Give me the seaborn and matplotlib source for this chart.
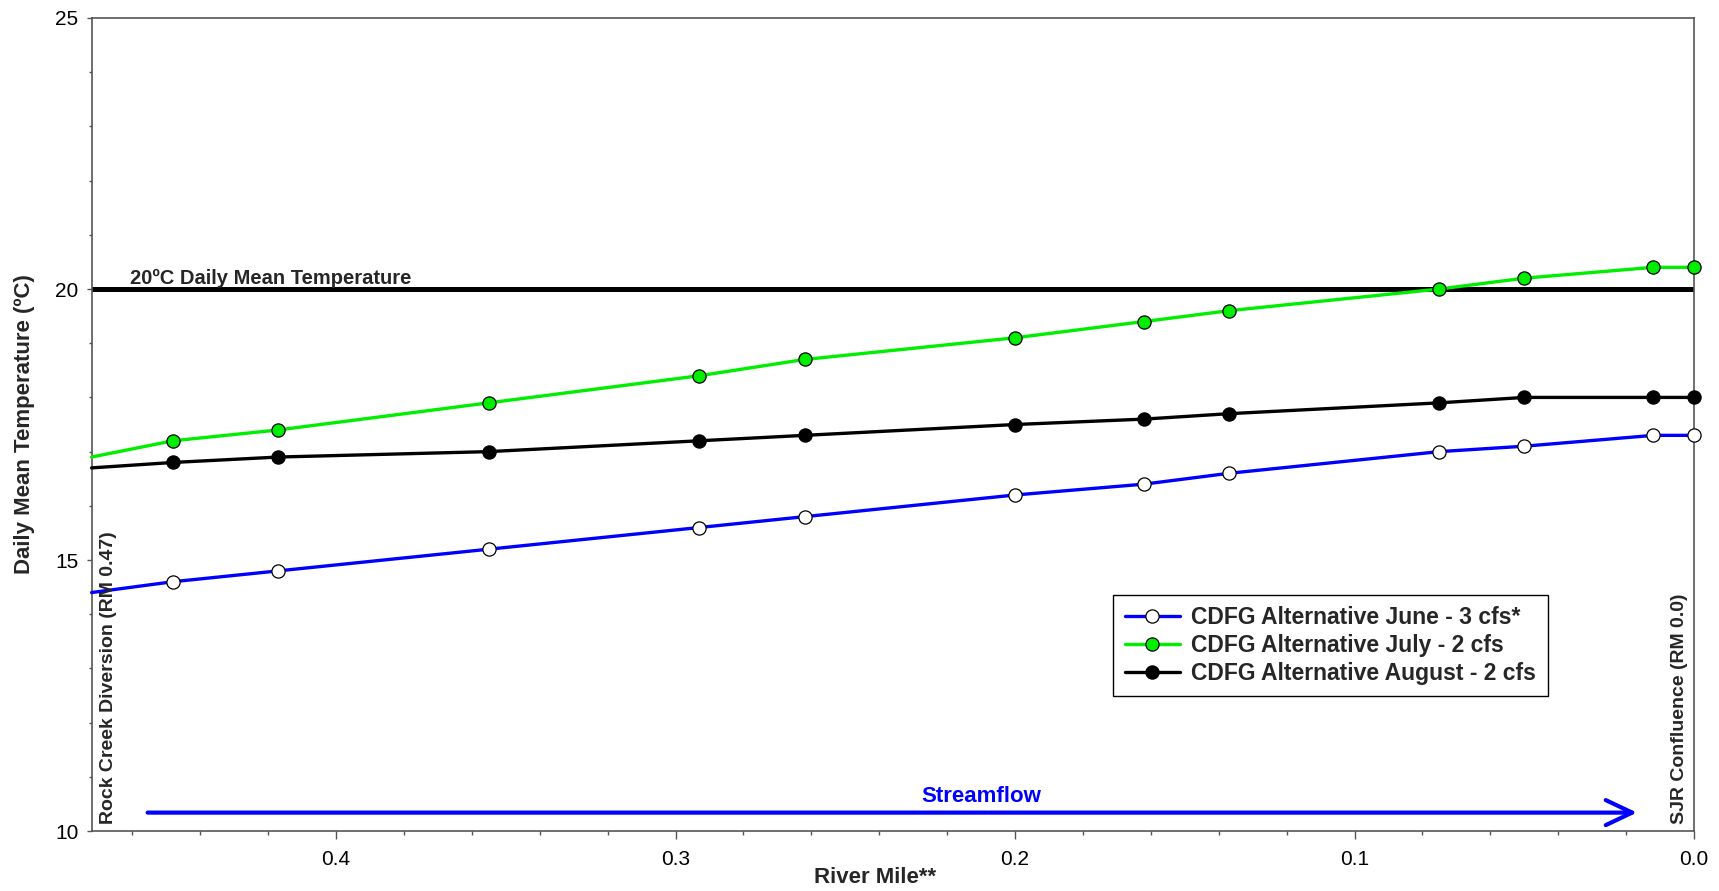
import matplotlib
matplotlib.use("Agg")
import matplotlib.pyplot as plt
from matplotlib.ticker import MultipleLocator, FixedLocator
import seaborn as sns
import pandas as pd

# ---- data ----
river_mile = [0.472, 0.448, 0.417, 0.355, 0.293, 0.262, 0.200, 0.162, 0.137, 0.075, 0.050, 0.012, 0.0]
june_temp = [14.4, 14.6, 14.8, 15.2, 15.6, 15.8, 16.2, 16.4, 16.6, 17.0, 17.1, 17.3, 17.3]
july_temp = [16.9, 17.2, 17.4, 17.9, 18.4, 18.7, 19.1, 19.4, 19.6, 20.0, 20.2, 20.4, 20.4]
august_temp = [16.7, 16.8, 16.9, 17.0, 17.2, 17.3, 17.5, 17.6, 17.7, 17.9, 18.0, 18.0, 18.0]
series_labels = ["CDFG Alternative June - 3 cfs*",
                 "CDFG Alternative July - 2 cfs",
                 "CDFG Alternative August - 2 cfs"]
threshold = 20
x_ticks = [0.4, 0.3, 0.2, 0.1, 0.0]
x_tick_labels = ["0.4", "0.3", "0.2", "0.1", "0.0"]
y_ticks = [10, 15, 20, 25]

sns.set_theme(style="ticks")
plt.rcParams["font.family"] = ["Liberation Sans", "DejaVu Sans"]

fig = plt.figure(figsize=(17.19, 8.91), dpi=100)
ax = fig.add_axes([0.0533, 0.0673, 0.9322, 0.9125])

ax.axhline(threshold, color="black", lw=3.6, zorder=1.5)

styles = [
    dict(color="#0000ff", mfc="white"),
    dict(color="#00ee00", mfc="#00ee00"),
    dict(color="black", mfc="black"),
]
for vals, lab, st in zip([june_temp, july_temp, august_temp], series_labels, styles):
    df = pd.DataFrame({"rm": river_mile, "t": vals})
    sns.lineplot(data=df, x="rm", y="t", ax=ax, sort=False, color=st["color"],
                 lw=2.4, marker="o", markersize=9.5, markerfacecolor=st["mfc"],
                 markeredgecolor="black", markeredgewidth=0.9,
                 markevery=list(range(1, len(river_mile))), label=lab,
                 clip_on=False, zorder=3)

ax.set_xlim(0.472, 0.0)
ax.set_ylim(10, 25)
ax.xaxis.set_major_locator(FixedLocator(x_ticks))
ax.set_xticklabels(x_tick_labels)
ax.xaxis.set_minor_locator(MultipleLocator(0.02))
ax.yaxis.set_major_locator(FixedLocator(y_ticks))
ax.yaxis.set_minor_locator(MultipleLocator(1))

spine_col = "#555555"
for s in ax.spines.values():
    s.set_color(spine_col)
    s.set_linewidth(1.2)
ax.tick_params(axis="both", which="major", labelsize=15, colors=spine_col,
               labelcolor="black", width=1.0)
ax.tick_params(axis="x", which="major", length=5.5, pad=8)
ax.tick_params(axis="y", which="major", length=3.6, pad=6)
ax.tick_params(axis="x", which="minor", length=3, colors=spine_col, width=1.0)
ax.tick_params(axis="y", which="minor", length=2, colors=spine_col, width=1.0)

ax.set_xlabel("River Mile**", fontsize=16, fontweight="bold")
ax.set_ylabel("Daily Mean Temperature (ºC)", fontsize=16, fontweight="bold")
ax.xaxis.label.set_va("center")
ax.yaxis.label.set_va("center")
ax.xaxis.set_label_coords(0.489, -0.0575)
ax.yaxis.set_label_coords(-0.0418, 0.5)

ax.text(0.4607, threshold + 0.01, "20ºC Daily Mean Temperature", fontsize=14.5,
        fontweight="bold", ha="left", va="bottom")
ax.text(0.467, 10.13, "Rock Creek Diversion (RM 0.47)", rotation=90, fontsize=14,
        fontweight="bold", ha="center", va="bottom")
ax.text(0.0043, 10.13, "SJR Confluence (RM 0.0)", rotation=90, fontsize=14,
        fontweight="bold", ha="center", va="bottom")

ax.annotate("", xy=(0.0168, 10.34), xytext=(0.4555, 10.34),
            arrowprops=dict(arrowstyle="->,head_length=0.95,head_width=0.45",
                            color="#0000ff", lw=3, shrinkA=0, shrinkB=0,
                            mutation_scale=20))
ax.text(0.21, 10.63, "Streamflow", color="#0000ff", fontsize=16, fontweight="bold",
        ha="center", va="center")

leg = ax.legend(loc="upper left", bbox_to_anchor=(0.6376, 0.2903), fontsize=16.5,
                frameon=True, fancybox=False, edgecolor="black", framealpha=1,
                handlelength=2.4, handletextpad=0.5, borderpad=0.5,
                labelspacing=0.2, borderaxespad=0)
leg.get_frame().set_linewidth(1.0)
for t in leg.get_texts():
    t.set_fontweight("bold")

fig.savefig("out.png", dpi=100)
